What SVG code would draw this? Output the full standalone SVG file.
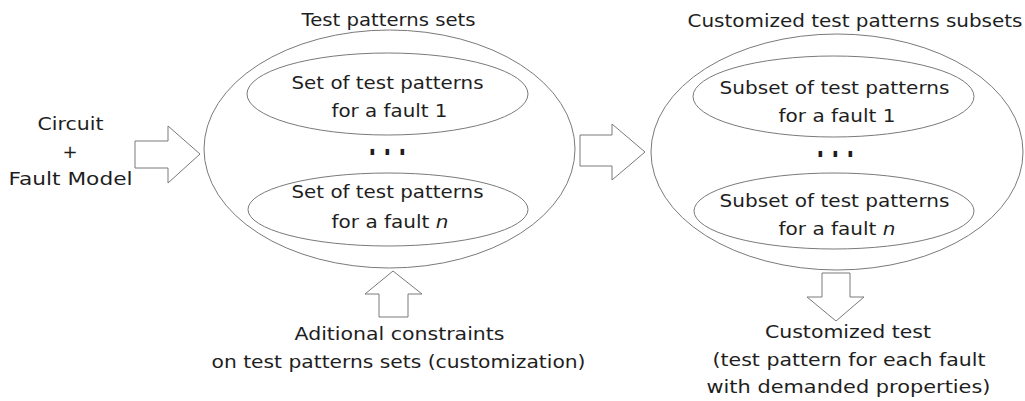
<svg xmlns="http://www.w3.org/2000/svg" width="1025" height="401" viewBox="0 0 1025 401">
  <style>
    .outline { fill: none; stroke: #7a7a7a; stroke-width: 1; }
    .block { fill: #ffffff; stroke: #7a7a7a; stroke-width: 1; stroke-linejoin: miter; }
    .lbl { font-family: "DejaVu Sans", "Liberation Sans", sans-serif; font-size: 18px; fill: #1e1e1e; text-anchor: middle; }
    .dots { font-family: "DejaVu Sans", "Liberation Sans", sans-serif; font-size: 20px; font-weight: bold; fill: #1e1e1e; letter-spacing: 7.4px; }
  </style>

  <rect width="1025" height="401" fill="#ffffff"/>

  <!-- block arrows between the stages -->
  <g id="connectors">
    <polygon id="arrow-input" class="block" points="135,141 168,141 168,126 200,154 168,183 168,168 135,168"/>
    <polygon id="arrow-stage" class="block" points="580,135 612,135 612,124 645,152 612,180 612,166 580,166"/>
    <polygon id="arrow-constraints" class="block" points="379,317 379,294 365,294 393,271 422,294 408,294 408,317"/>
    <polygon id="arrow-output" class="block" points="822,273 850,273 850,297 864,297 836,321 807,297 822,297"/>
  </g>

  <!-- circuit and fault model input -->
  <g id="input">
    <text class="lbl" x="70.5" y="130" textLength="66" lengthAdjust="spacingAndGlyphs">Circuit</text>
    <text class="lbl" x="70" y="157.5" font-size="20">+</text>
    <text class="lbl" x="70.5" y="185" textLength="124" lengthAdjust="spacingAndGlyphs">Fault Model</text>
  </g>

  <!-- all test patterns sets -->
  <g id="pattern-sets">
    <text class="lbl" x="388.5" y="26" textLength="174" lengthAdjust="spacingAndGlyphs">Test patterns sets</text>
    <ellipse class="outline" cx="389.5" cy="149" rx="185.5" ry="119"/>
    <g id="set-1">
      <ellipse class="outline" cx="387.5" cy="94" rx="140.5" ry="41"/>
      <text class="lbl" x="387.5" y="89" textLength="192" lengthAdjust="spacingAndGlyphs">Set of test patterns</text>
      <text class="lbl" x="389.5" y="117" textLength="116" lengthAdjust="spacingAndGlyphs">for a fault 1</text>
    </g>
    <text class="dots" transform="translate(368.6,155) scale(1,1.6)">...</text>
    <g id="set-n">
      <ellipse class="outline" cx="388" cy="209.5" rx="140" ry="36.5"/>
      <text class="lbl" x="387.5" y="198" textLength="192" lengthAdjust="spacingAndGlyphs">Set of test patterns</text>
      <text class="lbl" x="390" y="228" textLength="117" lengthAdjust="spacingAndGlyphs">for a fault <tspan font-style="italic">n</tspan></text>
    </g>
  </g>

  <!-- customized subsets -->
  <g id="pattern-subsets">
    <text class="lbl" x="855" y="27" textLength="335" lengthAdjust="spacingAndGlyphs">Customized test patterns subsets</text>
    <ellipse class="outline" cx="837" cy="152" rx="186" ry="118"/>
    <g id="subset-1">
      <ellipse class="outline" cx="833.5" cy="96.5" rx="140.5" ry="40.5"/>
      <text class="lbl" x="834.5" y="94" textLength="230" lengthAdjust="spacingAndGlyphs">Subset of test patterns</text>
      <text class="lbl" x="837" y="122" textLength="117" lengthAdjust="spacingAndGlyphs">for a fault 1</text>
    </g>
    <text class="dots" transform="translate(816.6,157) scale(1,1.6)">...</text>
    <g id="subset-n">
      <ellipse class="outline" cx="834" cy="211" rx="140" ry="38"/>
      <text class="lbl" x="834.5" y="207" textLength="230" lengthAdjust="spacingAndGlyphs">Subset of test patterns</text>
      <text class="lbl" x="837" y="235" textLength="117" lengthAdjust="spacingAndGlyphs">for a fault <tspan font-style="italic">n</tspan></text>
    </g>
  </g>

  <!-- additional constraints -->
  <g id="constraints">
    <text class="lbl" x="399.5" y="340" textLength="210" lengthAdjust="spacingAndGlyphs">Aditional constraints</text>
    <text class="lbl" x="398.5" y="368" textLength="374" lengthAdjust="spacingAndGlyphs">on test patterns sets (customization)</text>
  </g>

  <!-- resulting customized test -->
  <g id="customized-test">
    <text class="lbl" x="848" y="338" textLength="166" lengthAdjust="spacingAndGlyphs">Customized test</text>
    <text class="lbl" x="849" y="366" textLength="273" lengthAdjust="spacingAndGlyphs">(test pattern for each fault</text>
    <text class="lbl" x="848.5" y="393" textLength="284" lengthAdjust="spacingAndGlyphs">with demanded properties)</text>
  </g>
</svg>
